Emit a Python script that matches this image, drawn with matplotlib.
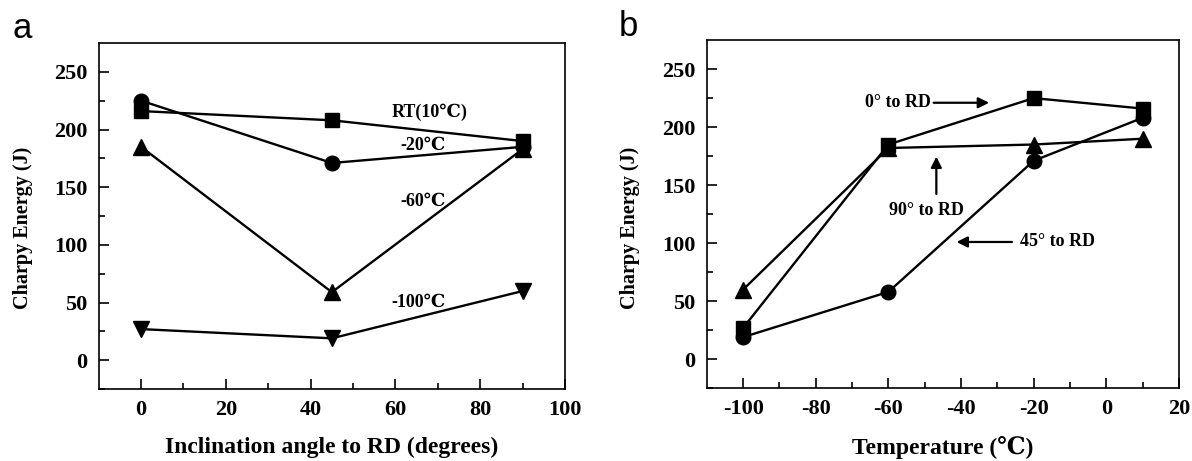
import matplotlib
matplotlib.use("Agg")
import matplotlib.pyplot as plt

plt.rcParams['font.family'] = ['Liberation Serif', 'DejaVu Serif', 'Noto Sans CJK SC']
plt.rcParams['font.weight'] = 'bold'
plt.rcParams['axes.unicode_minus'] = False

# Panel a data: Charpy energy vs inclination angle
angles = [0, 45, 90]
e_rt = [216, 208, 190]      # RT(10℃)
e_m20 = [225, 171, 185]     # -20℃
e_m60 = [185, 59, 183]      # -60℃
e_m100 = [27, 19, 60]       # -100℃

# Panel b data: Charpy energy vs temperature
temps = [-100, -60, -20, 10]
e_0deg = [27, 185, 225, 216]
e_45deg = [19, 58, 171, 208]
e_90deg = [60, 182, 185, 190]

fig = plt.figure(figsize=(11.92, 4.61), dpi=100)
axa = fig.add_axes([0.0828, 0.156, 0.474 - 0.0828, 0.9067 - 0.156])
axb = fig.add_axes([0.593, 0.158, 0.989 - 0.593, 0.913 - 0.158])

lw = 1.7
kw_s = dict(color='black', lw=lw, marker='s', markersize=9.5)
kw_o = dict(color='black', lw=lw, marker='o', markersize=10.5)
kw_u = dict(color='black', lw=lw, marker='^', markersize=12)
kw_d = dict(color='black', lw=lw, marker='v', markersize=12)

axa.plot(angles, e_rt, **kw_s)
axa.plot(angles, e_m20, **kw_o)
axa.plot(angles, e_m60, **kw_u)
axa.plot(angles, e_m100, **kw_d)

axb.plot(temps, e_0deg, **kw_s)
axb.plot(temps, e_45deg, **kw_o)
axb.plot(temps, e_90deg, **kw_u)

fs = 16
for ax in (axa, axb):
    ax.set_ylim(-25, 275)
    ax.set_yticks([0, 50, 100, 150, 200, 250])
    ax.set_yticks(range(-25, 275, 25), minor=True)
    ax.tick_params(which='both', direction='in', right=False, top=False)
    ax.tick_params(which='major', length=7, width=1.2, labelsize=fs, pad=8)
    ax.tick_params(which='minor', length=4, width=1.2)
    for s in ax.spines.values():
        s.set_linewidth(1.2)
    ax.set_ylabel('Charpy Energy (J)', fontsize=14.5, fontweight='bold')

axa.yaxis.set_label_coords(-0.141, 0.467)
axb.yaxis.set_label_coords(-0.142, 0.461)

axa.set_xlim(-10, 100)
axa.set_xticks([0, 20, 40, 60, 80, 100])
axa.set_xticks(range(0, 100, 10), minor=True)
axa.set_xlabel('Inclination angle to RD (degrees)', fontsize=17, fontweight='bold', labelpad=12)

axb.set_xlim(-110, 20)
axb.set_xticks([-100, -80, -60, -40, -20, 0, 20])
axb.set_xticks(range(-100, 20, 10), minor=True)
axb.set_xlabel('Temperature (℃)', fontsize=17, fontweight='bold', labelpad=12)

for ax in (axa, axb):
    for lab in ax.get_xticklabels() + ax.get_yticklabels():
        lab.set_fontweight('bold')

tfs = 13
axa.text(68, 215, 'RT(10℃)', fontsize=tfs, fontweight='bold', ha='center', va='center')
axa.text(66.5, 186, '-20℃', fontsize=tfs, fontweight='bold', ha='center', va='center')
axa.text(66.5, 138, '-60℃', fontsize=tfs, fontweight='bold', ha='center', va='center')
axa.text(65.5, 50, '-100℃', fontsize=tfs, fontweight='bold', ha='center', va='center')

axb.text(-57.5, 221, '0° to RD', fontsize=tfs, fontweight='bold', ha='center', va='center')
axb.annotate('', xy=(-31.5, 221), xytext=(-48.3, 221),
             arrowprops=dict(arrowstyle='-|>', color='black', lw=1.6, mutation_scale=16))
axb.text(-49.5, 128, '90° to RD', fontsize=tfs, fontweight='bold', ha='center', va='center')
axb.annotate('', xy=(-46.8, 177), xytext=(-46.8, 140),
             arrowprops=dict(arrowstyle='-|>', color='black', lw=1.6, mutation_scale=16))
axb.text(-13.5, 101, '45° to RD', fontsize=tfs, fontweight='bold', ha='center', va='center')
axb.annotate('', xy=(-42, 101), xytext=(-25.2, 101),
             arrowprops=dict(arrowstyle='-|>', color='black', lw=1.6, mutation_scale=16))

fig.text(22 / 1192, 1 - 29 / 461, 'a', fontsize=25, family='Liberation Sans',
         fontweight='normal', ha='center', va='center')
fig.text(628 / 1192, 1 - 27 / 461, 'b', fontsize=25, family='Liberation Sans',
         fontweight='normal', ha='center', va='center')

fig.savefig('out.png', dpi=100)
